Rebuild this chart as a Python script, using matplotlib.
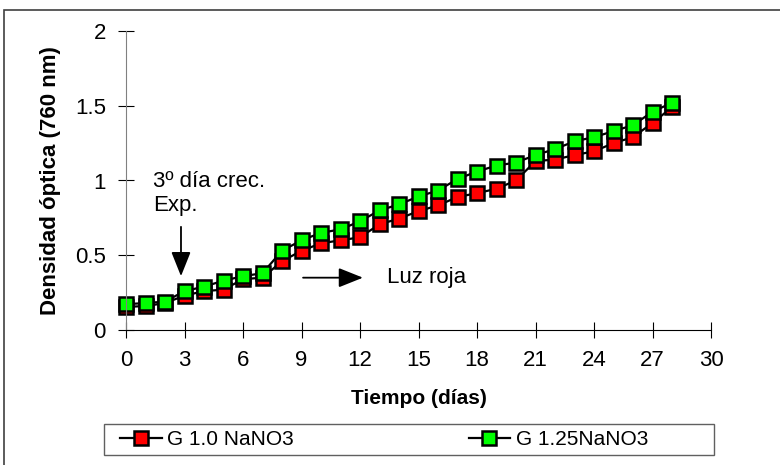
import numpy as np
import matplotlib
matplotlib.use("Agg")
import matplotlib.pyplot as plt
from matplotlib.lines import Line2D
from matplotlib.patches import Rectangle

plt.rcParams['font.family'] = ['Liberation Sans', 'DejaVu Sans']

# datos
dias = list(range(0, 29))
g_10 = [0.155, 0.16, 0.18, 0.23, 0.26, 0.27, 0.34, 0.35, 0.46, 0.53, 0.58, 0.60, 0.62,
        0.707, 0.745, 0.795, 0.833, 0.89, 0.915, 0.945, 1.00, 1.13, 1.14, 1.17, 1.195,
        1.25, 1.29, 1.385, 1.49]
g_125 = [0.173, 0.18, 0.19, 0.26, 0.29, 0.33, 0.36, 0.38, 0.53, 0.60, 0.65, 0.673, 0.727,
         0.80, 0.84, 0.893, 0.933, 1.01, 1.06, 1.10, 1.12, 1.17, 1.21, 1.262, 1.29,
         1.33, 1.37, 1.46, 1.52]
etiquetas = ["G 1.0 NaNO3", "G 1.25NaNO3"]
colores = ["#ff0000", "#00ff00"]
xticks = list(range(0, 31, 3))
yticks = [0, 0.5, 1, 1.5, 2]

fig = plt.figure(figsize=(7.8, 4.65), dpi=100)
ax = fig.add_axes([126/780, 1-330/465, 585/780, 299/465])

for serie, col, lab in zip([g_10, g_125], colores, etiquetas):
    ax.plot(dias, serie, color='black', lw=1.6, marker='s', markersize=9.5,
            markerfacecolor=col, markeredgecolor='black', markeredgewidth=1.8,
            label=lab, clip_on=False)

ax.set_xlim(0, 30)
ax.set_ylim(0, 2)
ax.set_xticks(xticks)
ax.set_yticks(yticks)
ax.set_yticklabels(['0', '0.5', '1', '1.5', '2'])
ax.spines['top'].set_visible(False)
ax.spines['right'].set_visible(False)
ax.spines['left'].set_color('#808080')
ax.spines['bottom'].set_color('black')
ax.tick_params(axis='both', direction='inout', length=11, width=0.8, labelsize=16)
ax.tick_params(axis='x', pad=9)
ax.tick_params(axis='y', pad=9)
ax.set_xlabel("Tiempo (días)", fontsize=15, fontweight='bold', labelpad=13)
ax.set_ylabel("Densidad óptica (760 nm)", fontsize=16, fontweight='bold', labelpad=10)

# anotaciones
flecha = dict(arrowstyle='-|>,head_width=0.6,head_length=1.5',
              color='black', lw=1.3, mutation_scale=10, shrinkA=0, shrinkB=0)
ax.text(1.38, 0.99, "3º día crec.", fontsize=16, va='center', ha='left')
ax.text(1.38, 0.83, "Exp.", fontsize=16, va='center', ha='left')
ax.annotate("", xy=(2.82, 0.36), xytext=(2.82, 0.69), arrowprops=flecha)
ax.annotate("", xy=(12.15, 0.35), xytext=(9.08, 0.35), arrowprops=flecha)
ax.text(13.37, 0.35, "Luz roja", fontsize=16, va='center', ha='left')

# marco exterior
fig.patches.append(Rectangle((4/780, -0.1), 1.2, 1-10/465+0.1, transform=fig.transFigure,
                             fill=False, edgecolor='#404040', lw=1.2))
# marco de la leyenda
fig.patches.append(Rectangle((104/780, 1-455/465), 610/780, 31/465, transform=fig.transFigure,
                             fill=False, edgecolor='#606060', lw=1.0))

handles = [Line2D([], [], color='black', lw=1.6, marker='s', markersize=9.5,
                  markerfacecolor=c, markeredgecolor='black', markeredgewidth=1.8)
           for c in colores]
leg = fig.legend(handles, etiquetas, loc='center left',
                 bbox_to_anchor=(120/780, 1-439.5/465),
                 ncol=2, borderaxespad=0, borderpad=0, frameon=False,
                 fontsize=15, handlelength=2.0, handletextpad=0.25,
                 columnspacing=8.4)

fig.savefig("out.png", dpi=100)
